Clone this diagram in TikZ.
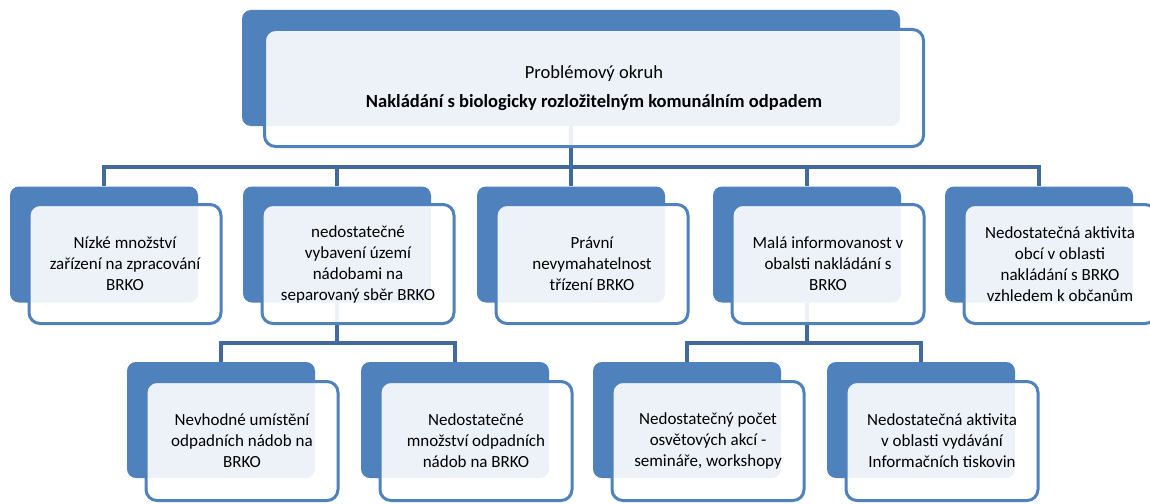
\documentclass[tikz,border=0pt]{standalone}
\usepackage{fontspec}
\setmainfont{Carlito}
\usetikzlibrary{calc, backgrounds}
\definecolor{accblue}{HTML}{4F81BD}
\definecolor{linkblue}{HTML}{41699B}

\begin{document}
\begin{tikzpicture}[x=1pt, y=-1pt,
    back/.style={fill=accblue, rounded corners=9pt, minimum width=188pt, minimum height=116pt, inner sep=0pt},
    front/.style={draw=accblue, line width=3pt, fill=white, fill opacity=0.9, text opacity=1, rounded corners=11pt,
      minimum width=192pt, minimum height=119pt, align=center, inner sep=0pt,
      font=\fontsize{17}{21}\selectfont},
    link/.style={draw=linkblue, line width=4pt}]
  \useasboundingbox (0,0) rectangle (1150,503);

  % top box
  \node[back, minimum width=658pt] (okruhB) at (571,68) {};
  \node[front, minimum width=659pt, minimum height=117pt, font=\fontsize{18.5}{29}\selectfont]
    (okruh) at ($(okruhB)+(23,20)$) {Problémový okruh\\\textbf{Nakládání s biologicky rozložitelným komunálním odpadem}};

  % first row
  \node[back] (zarB) at (104,244.5) {};
  \node[front] (zar) at ($(zarB)+(21,19.5)$) {Nízké množství\\zařízení na zpracování\\BRKO};
  \node[back] (nadB) at (337,244.5) {};
  \node[front] (nad) at ($(nadB)+(21,19.5)$) {nedostatečné\\vybavení území\\nádobami na\\separovaný sběr BRKO};
  \node[back] (praB) at (571,244.5) {};
  \node[front] (pra) at ($(praB)+(21,19.5)$) {Právní\\nevymahatelnost\\třízení BRKO};
  \node[back] (infB) at (807,244.5) {};
  \node[front] (inf) at ($(infB)+(21,19.5)$) {Malá informovanost v\\obalsti nakládání s\\BRKO};
  \node[back] (obcB) at (1039,244.5) {};
  \node[front] (obc) at ($(obcB)+(21,19.5)$) {Nedostatečná aktivita\\obcí v oblasti\\nakládání s BRKO\\vzhledem k občanům};

  % second row
  \node[back] (umiB) at (221,420) {};
  \node[front] (umi) at ($(umiB)+(21,21)$) {Nevhodné umístění\\odpadních nádob na\\BRKO};
  \node[back] (mnoB) at (455,420) {};
  \node[front] (mno) at ($(mnoB)+(21,21)$) {Nedostatečné\\množství odpadních\\nádob na BRKO};
  \node[back] (osvB) at (687,420) {};
  \node[front] (osv) at ($(osvB)+(21,21)$) {Nedostatečný počet\\osvětových akcí -\\semináře, workshopy};
  \node[back] (tisB) at (921,420) {};
  \node[front] (tis) at ($(tisB)+(21,21)$) {Nedostatečná aktivita\\v oblasti vydávání\\Informačních tiskovin};

  \coordinate (j1) at (571,167);
  \coordinate (j2) at (337,343);
  \coordinate (j3) at (807,343);

  \begin{scope}[on background layer]
    \draw[link] (okruhB.south) -- (j1);
    \draw[link] (zarB.north) |- (j1) -| (obcB.north);
    \foreach \n in {nadB, praB, infB}
      \draw[link] (\n.north) -- (\n.north |- j1);
    \draw[link] (nadB.south) -- (j2);
    \draw[link] (umiB.north) |- (j2) -| (mnoB.north);
    \draw[link] (infB.south) -- (j3);
    \draw[link] (osvB.north) |- (j3) -| (tisB.north);
  \end{scope}
\end{tikzpicture}
\end{document}
